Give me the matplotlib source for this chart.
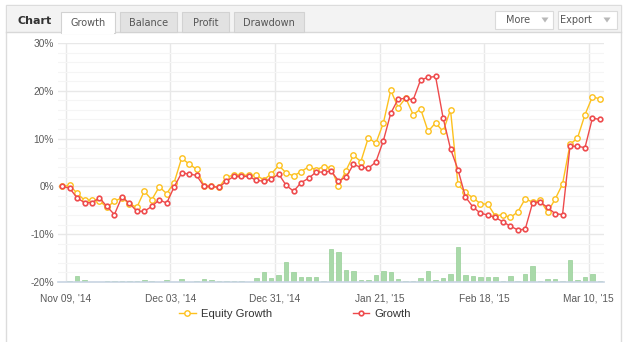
import matplotlib
matplotlib.use('Agg')
import matplotlib.pyplot as plt
from matplotlib.patches import Rectangle, Polygon
from matplotlib.lines import Line2D
import numpy as np

# ── data ────────────────────────────────────────────────────────────────
equity_growth = [
    0, 0.2, -1.4, -2.9, -2.8, -3.0, -4.4, -3.1, -2.4, -3.6,
    -4.4, -1.0, -2.8, -0.1, -1.5, 0.8, 5.9, 4.7, 3.6, 0.1,
    0, -0.2, 1.9, 2.4, 2.4,
    2.3, 2.3, 1.4, 2.6, 4.4, 2.8, 2.2, 3.1, 4.1, 3.5,
    4.1, 3.9, 0, 3.3, 6.5, 5.2, 10.2, 9.0, 13.2, 20.1,
    16.5, 18.5, 15.0,
    16.2, 11.5, 13.3, 11.5, 16.0, 0.4, -1.25, -2.4, -3.6, -3.75,
    -6.2, -5.9, -6.5, -5.35, -2.6, -3.3, -2.9, -5.35, -2.7, 0.5,
    8.8, 10.1, 15.0, 18.75, 18.3,
]
growth = [
    0, -0.35, -2.4, -3.4, -3.4, -2.4, -4.2, -5.9, -2.2, -3.5,
    -5.2, -5.2, -4.2, -2.8, -3.5, -0.1, 2.8, 2.6, 2.3, 0,
    0, -0.2, 1.1, 2.1, 2.1,
    2.1, 1.25, 1.1, 1.5, 2.6, 0.2, -1.0, 0.8, 1.7, 3.0,
    3.0, 3.2, 1.2, 1.9, 4.6, 4.0, 3.8, 5.1, 9.5, 15.3,
    18.3, 18.4, 18.1,
    22.3, 22.8, 23.0, 14.4, 7.85, 3.5, -2.2, -4.3, -5.6, -6.0,
    -6.5, -7.4, -8.3, -9.1, -8.96, -3.4, -3.3, -4.4, -5.7, -5.9,
    8.4, 8.4, 8.1, 14.3, 14.0,
]
# activity bars, drawn up from the bottom of the axis
activity = [
    0, 0.2, 1.25, 0.4, 0, 0, 0.2, 0.2, 0.2, 0.2,
    0.2, 0.5, 0.2, 0, 0.5, 0, 0.7, 0, 0.2, 0.7,
    0.5, 0.2, 0.2, 0.2, 0.2,
    0, 0.75, 2.0, 0.75, 1.4, 4.2, 2.0, 1.0, 1.0, 1.0,
    0.2, 7.0, 6.2, 2.6, 2.4, 0.5, 0.5, 1.4, 2.2, 2.0,
    0.6, 0.2, 0.2,
    0.75, 2.2, 0.4, 0.75, 1.6, 7.4, 1.4, 1.2, 1.0, 1.0,
    1.0, 0.2, 1.2, 0.2, 1.6, 3.3, 0.2, 0.6, 0.6, 0.2,
    4.7, 0.4, 1.0, 1.6, 0.2,
]
tick_idx = [0, 14, 28, 42, 56, 70]
tick_labels = ["Nov 09, '14", "Dec 03, '14", "Dec 31, '14",
               "Jan 21, '15", "Feb 18, '15", "Mar 10, '15"]
y_ticks = [-20, -10, 0, 10, 20, 30]
tabs = ['Growth', 'Balance', 'Profit', 'Drawdown']

W, H = 628, 342
YELLOW = '#FDC11E'
RED = '#EE4A4C'
TXT = '#5A5A5A'
AXFONT = ['Liberation Sans', 'DejaVu Sans']

fig = plt.figure(figsize=(W / 100, H / 100), dpi=100)
fig.patch.set_facecolor('white')


def fx(x):
    return x / W


def fy(y):
    return 1 - y / H


def box(x0, y0, x1, y1, fc, ec='none', lw=1.0, z=0):
    fig.add_artist(Rectangle((fx(x0), fy(y1)), fx(x1) - fx(x0), fy(y0) - fy(y1),
                             transform=fig.transFigure, facecolor=fc,
                             edgecolor=ec, linewidth=lw, zorder=z))


# ── panel + header strip ────────────────────────────────────────────────
box(6, 5, 621, 345, 'white', '#DCDCDC', 1.0, z=0)
box(6.5, 5.5, 620.5, 32, '#F3F3F3', 'none', z=1)
fig.add_artist(Line2D([fx(6), fx(621)], [fy(32), fy(32)], transform=fig.transFigure,
                      color='#D8D8D8', lw=1.0, zorder=2))
fig.text(fx(17), fy(21.5), 'Chart', fontsize=8, fontweight='bold',
         color='#333333', va='center', ha='left', family='DejaVu Sans', zorder=5)

tab_x = [(61, 115), (120, 177), (182, 229), (234, 304)]
for (x0, x1), name in zip(tab_x, tabs):
    active = name == 'Growth'
    box(x0, 12, x1, 32.5 if active else 32, 'white' if active else '#E2E2E2',
        '#D2D2D2', 0.8, z=3)
    if active:
        box(x0 + 0.6, 31, x1 - 0.6, 33.5, 'white', 'none', z=4)
    fig.text(fx((x0 + x1) / 2), fy(22.5), name, fontsize=7, color='#555555',
             va='center', ha='center', family='DejaVu Sans', zorder=5)

for (x0, x1, tri_x), name in zip([(495, 553, 545), (558, 617, 607)], ['More', 'Export']):
    box(x0, 11, x1, 29, 'white', '#DADADA', 0.8, z=3)
    fig.text(fx(tri_x - 15), fy(20), name, fontsize=7, color='#555555',
             va='center', ha='right', family='DejaVu Sans', zorder=5)
    fig.add_artist(Polygon([(fx(tri_x - 3.5), fy(17.5)), (fx(tri_x + 3.5), fy(17.5)),
                            (fx(tri_x), fy(22.5))], closed=True,
                           transform=fig.transFigure, facecolor='#B8B8B8',
                           edgecolor='none', zorder=5))

# ── plot area ───────────────────────────────────────────────────────────
ax = fig.add_axes([fx(58), fy(282), fx(604) - fx(58), fy(43) - fy(282)])
ax.set_facecolor('none')
x = np.arange(len(growth))

ax.set_xlim(-0.55, len(growth) - 0.45)
ax.set_ylim(-20, 30)
ax.set_yticks(y_ticks)
ax.set_yticklabels([f'{v}%' for v in y_ticks])
ax.set_yticks(np.arange(-20, 31, 2), minor=True)
ax.set_xticks([i + 0.5 for i in tick_idx])
ax.set_xticklabels(tick_labels)

ax.grid(True, which='major', axis='both', color='#E8E8E8', linewidth=1.0, zorder=0)
ax.grid(True, which='minor', axis='y', color='#F5F5F5', linewidth=0.8, zorder=0)
ax.set_axisbelow(True)

for side in ['top', 'right', 'left']:
    ax.spines[side].set_visible(False)
ax.spines['bottom'].set_color('#C8D4E2')
ax.spines['bottom'].set_linewidth(1.2)

ax.tick_params(axis='both', which='both', length=0, labelsize=7.3, labelcolor=TXT)
ax.tick_params(axis='y', pad=3)
ax.tick_params(axis='x', pad=8)
for lbl in ax.get_xticklabels() + ax.get_yticklabels():
    lbl.set_family(AXFONT)

ax.bar(x, activity, bottom=-20, width=0.6, color='#A9D9A9',
       edgecolor='#97CF97', linewidth=0.5, zorder=2)

ax.plot(x, equity_growth, color=YELLOW, lw=1.0, marker='o', ms=3.9,
        mfc='white', mec=YELLOW, mew=1.0, zorder=3, label='Equity Growth')
ax.plot(x, growth, color=RED, lw=1.0, marker='o', ms=3.3,
        mfc='white', mec=RED, mew=1.2, zorder=4, label='Growth')

leg = fig.legend(loc='center', bbox_to_anchor=(fx(295), fy(314)), ncol=2,
                 frameon=False, handlelength=1.45, handletextpad=0.45,
                 columnspacing=7.2, prop={'family': AXFONT, 'size': 8.1})
for t in leg.get_texts():
    t.set_color('#333333')

fig.savefig('out.png', dpi=100, facecolor='white')
